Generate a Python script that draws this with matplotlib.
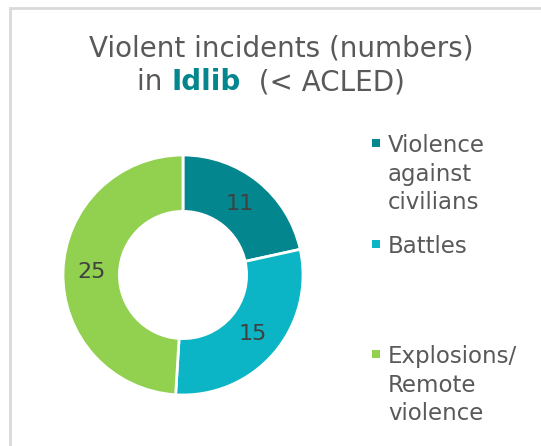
import matplotlib.pyplot as plt
from matplotlib.patches import Rectangle

categories = ['Violence\nagainst\ncivilians', 'Battles', 'Explosions/\nRemote\nviolence']
values = [11, 15, 25]
colors = ['#04868F', '#0BB5C6', '#92D050']

W, H = 541, 446
fig = plt.figure(figsize=(W / 100, H / 100), dpi=100)
fig.patch.set_facecolor('white')

def fx(x):
    return x / W

def fy(y):
    return 1 - y / H

# light grey frame running off the right and bottom edges
fig.patches.append(Rectangle((fx(10), -0.05), 1.1, fy(8) + 0.05, transform=fig.transFigure,
                             fill=False, edgecolor='#D9D9D9', linewidth=2))

# donut
cx, cy, r = 183, 275, 120
ax = fig.add_axes([fx(cx - r), fy(cy + r), 2 * r / W, 2 * r / H])
total = sum(values)
wedges, texts, autotexts = ax.pie(values, colors=colors, startangle=90, counterclock=False,
                                  radius=1, pctdistance=0.76,
                                  autopct=lambda p: '%d' % round(p * total / 100),
                                  wedgeprops=dict(width=0.47, edgecolor='white', linewidth=2))
for t in autotexts:
    t.set_fontsize(16)
    t.set_color('#404040')
ax.set_xlim(-1, 1)
ax.set_ylim(-1, 1)
ax.set_aspect('equal')
ax.axis('off')

# title, second line has a bold coloured word
fs_title = 20
fig.text(fx(281), fy(56.5), 'Violent incidents (numbers)', ha='center', va='baseline',
         fontsize=fs_title, color='#595959')
fig.canvas.draw()
rend = fig.canvas.get_renderer()
parts = [('in ', 'normal', '#595959'), ('Idlib', 'bold', '#04868F'), ('  (< ACLED)', 'normal', '#595959')]
objs = []
for s, w, c in parts:
    objs.append(fig.text(0, fy(90.5), s.replace(' ', '\u00a0'), ha='left', va='baseline',
                         fontsize=fs_title, fontweight=w, color=c))
widths = [o.get_window_extent(rend).width for o in objs]
x = 271 - sum(widths) / 2
for o, w in zip(objs, widths):
    o.set_x(fx(x))
    x += w

# legend, one text per line so the baselines sit where they should
leg_base = [152, 253, 363]
step = 28.7
for lab, col, y in zip(categories, colors, leg_base):
    fig.patches.append(Rectangle((fx(371.5), fy(y - 5)), 8 / W, 8 / H,
                                 transform=fig.transFigure, facecolor=col, edgecolor='none'))
    for i, line in enumerate(lab.split('\n')):
        fig.text(fx(388), fy(y + i * step), line, ha='left', va='baseline', fontsize=16.5,
                 color='#595959')

fig.savefig('out.png', dpi=100)
